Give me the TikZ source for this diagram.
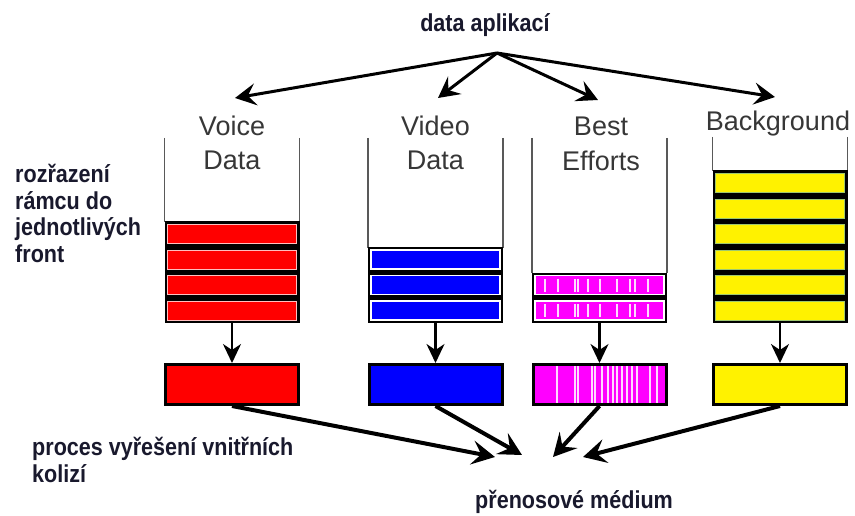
\documentclass[tikz,border=0pt]{standalone}
\usepackage{fontspec}
\setmainfont{Liberation Sans}
\newfontfamily\condfont[FakeStretch=0.88]{Liberation Sans}
\usetikzlibrary{arrows.meta}
\definecolor{txt}{RGB}{25,25,45}
\definecolor{lbl}{RGB}{55,55,55}
\definecolor{mag}{RGB}{255,0,255}
\definecolor{ygreen}{RGB}{160,200,110}
\begin{document}
\begin{tikzpicture}[x=1pt,y=-1pt,
  bold/.style={font=\condfont\fontsize{24.5}{28}\selectfont\bfseries, text=txt, inner sep=0pt},
  qlabel/.style={font=\fontsize{27}{34}\selectfont, text=lbl, inner sep=0pt, anchor=base},
  wall/.style={draw=black!65, line width=1.4pt},
  stackframe/.style={fill=black, draw=none, minimum width=135pt, inner sep=0pt},
  redbar/.style={fill=red, draw=red!25, line width=0.8pt},
  bluebar/.style={fill=blue, draw=white, line width=1.3pt},
  magbar/.style={fill=mag, draw=white, line width=1.3pt},
  yelbar/.style={fill=yellow, draw=ygreen, line width=0.9pt},
  stripe/.style={draw=white!85!mag, line width=1.1pt},
  topar/.style={-{Stealth[length=21pt,width=22pt,inset=8pt]}, line width=3pt},
  downar/.style={-{Stealth[length=19pt,width=18pt,inset=6pt]}, line width=2.5pt},
  botar/.style={-{Stealth[length=23pt,width=24pt,inset=9pt]}, line width=4pt},
  lowbox/.style={draw=black, line width=3pt, minimum width=133pt, minimum height=40pt, inner sep=0pt},
]
\useasboundingbox[fill=white] (0,0) rectangle (855,516);

% --- titles ---
\node[bold, anchor=base] (title) at (485,32) {data aplikací};
\coordinate (src) at (497,53);
\coordinate (tv) at (235,98);
\coordinate (tvid) at (438,98);
\coordinate (tbe) at (598,100);
\coordinate (tbg) at (775,97);
\draw[topar] (src) -- (tv);
\draw[topar] (src) -- (tvid);
\draw[topar] (src) -- (tbe);
\draw[topar] (src) -- (tbg);

% --- queue labels ---
\node[qlabel] (lv1) at (232,136) {Voice};
\node[qlabel] (lv2) at (232,170) {Data};
\node[qlabel] (lvi1) at (435.5,136) {Video};
\node[qlabel] (lvi2) at (435.5,170) {Data};
\node[qlabel] (lb1) at (601,136) {Best};
\node[qlabel] (lb2) at (601,171) {Efforts};
\node[qlabel] (lbg) at (778,131) {Background};

% --- left texts ---
\node[bold, anchor=base west] (l1) at (15,183) {rozřazení};
\node[bold, anchor=base west] (l2) at (15,209.5) {rámcu do};
\node[bold, anchor=base west] (l3) at (15,236) {jednotlivých};
\node[bold, anchor=base west] (l4) at (15,262.5) {front};
\node[bold, anchor=base west] (p1) at (32,455) {proces vyřešení vnitřních};
\node[bold, anchor=base west] (p2) at (32,482) {kolizí};
\node[bold, anchor=base west] (med) at (475,508) {přenosové médium};

% --- container walls ---
\draw[wall] (164.5,138) -- (164.5,222) (299.5,138) -- (299.5,222);
\draw[wall] (368,138) -- (368,248) (503,138) -- (503,248);
\draw[wall] (532,138) -- (532,273) (667,138) -- (667,273);
\draw[wall] (712.5,137) -- (712.5,171) (847.5,137) -- (847.5,171);

% --- stack frames ---
\node[stackframe, minimum height=101.5pt] (fv) at (232,272.25) {};
\node[stackframe, minimum height=76pt] (fvi) at (435.5,285) {};
\node[stackframe, minimum height=50.5pt] (fbe) at (599.5,297.75) {};
\node[stackframe, minimum height=152.5pt] (fbg) at (780,246.75) {};

% --- bars ---
\foreach \k in {0,...,3} \draw[redbar] (167.5,{301-25.5*\k}) rectangle (296.5,{320-25.5*\k});
\foreach \k in {0,...,2} \draw[bluebar] (371,{301-25.5*\k}) rectangle (500,{320-25.5*\k});
\foreach \k in {0,1} {
  \draw[magbar] (535,{301-25.5*\k}) rectangle (664,{320-25.5*\k});
  \foreach \s in {545,558,575,578,588,600,617,630,635,648}
    \draw[stripe] (\s,{304-25.5*\k}) -- (\s,{317-25.5*\k});
}
\foreach \k in {0,...,5} \draw[yelbar] (715.5,{301-25.5*\k}) rectangle (844.5,{320-25.5*\k});

% --- lower boxes ---
\node[lowbox, fill=red] (bv) at (232,384.5) {};
\node[lowbox, fill=blue] (bvi) at (435.5,384.5) {};
\node[lowbox, fill=mag] (bbe) at (599.5,384.5) {};
\foreach \s in {557,575,578,592,595,602,608,613,617,622,627,632,637,650,657}
  \draw[stripe] (\s,366) -- (\s,403);
\node[lowbox, fill=yellow] (bbg) at (780,384.5) {};

% --- vertical arrows ---
\draw[downar] (fv.south) -- (bv.north);
\draw[downar] (fvi.south) -- (bvi.north);
\draw[downar] (fbe.south) -- (bbe.north);
\draw[downar] (fbg.south) -- (bbg.north);

% --- bottom arrows ---
\coordinate (m1) at (495,457);
\coordinate (m2) at (522,455);
\coordinate (m3) at (553,457);
\coordinate (m4) at (583,457);
\draw[botar] (bv.south) -- (m1);
\draw[botar] (bvi.south) -- (m2);
\draw[botar] (bbe.south) -- (m3);
\draw[botar] (bbg.south) -- (m4);
\end{tikzpicture}
\end{document}
